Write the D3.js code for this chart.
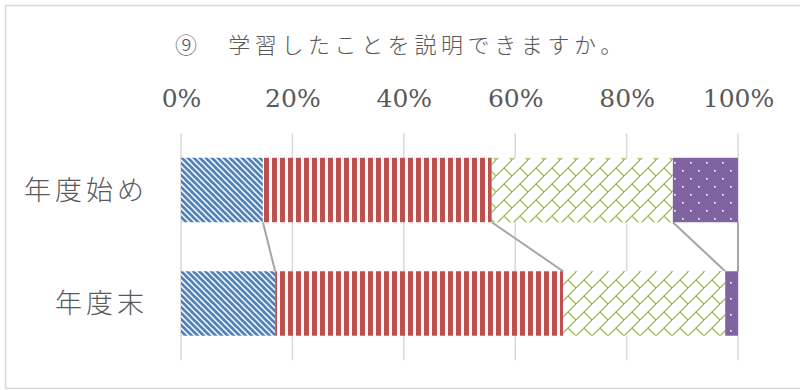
<!DOCTYPE html>
<html><head><meta charset="utf-8">
<script src="https://cdn.jsdelivr.net/npm/d3@7"></script>
<style>html,body{margin:0;padding:0;background:#fff;}svg{display:block;}</style>
</head><body>
<svg id="chart" width="800" height="390"></svg>
<script>
const title = "⑨　学習したことを説明できますか。";
const categories = ["年度始め", "年度末"];
const seriesNames = ["できる", "だいたいできる", "あまりできない", "できない"];
const s1 = [14.7, 16.9];
const s2 = [41.1, 51.7];
const s3 = [32.5, 29.1];
const s4 = [11.7, 2.3];
const tickValues = [0, 20, 40, 60, 80, 100];
const tickLabels = ["0%", "20%", "40%", "60%", "80%", "100%"];

const svg = d3.select("#chart");
const defs = svg.append("defs");

// Patterns
const pBlue = defs.append("pattern").attr("id","pBlue").attr("patternUnits","userSpaceOnUse")
  .attr("width",6).attr("height",6);
pBlue.append("rect").attr("width",6).attr("height",6).attr("fill","#fff");
pBlue.append("path").attr("d","M-1,-1L7,7M-1,5L1,7M5,-1L7,1").attr("stroke","#4f81bd").attr("stroke-width",2.7);

const pRed = defs.append("pattern").attr("id","pRed").attr("patternUnits","userSpaceOnUse")
  .attr("width",8).attr("height",8);
pRed.append("rect").attr("width",8).attr("height",8).attr("fill","#fff");
pRed.append("rect").attr("x",0).attr("width",5).attr("height",8).attr("fill","#c0504d");

const pGreen = defs.append("pattern").attr("id","pGreen").attr("patternUnits","userSpaceOnUse")
  .attr("width",16).attr("height",16);
pGreen.append("rect").attr("width",16).attr("height",16).attr("fill","#fff");
pGreen.append("path").attr("d","M-1,17L17,-1M8,8L17,17M-1,-1L0,0").attr("stroke","#9bbb59").attr("stroke-width",1.3).attr("fill","none");

const pPurple = defs.append("pattern").attr("id","pPurple").attr("patternUnits","userSpaceOnUse")
  .attr("width",16).attr("height",16);
pPurple.append("rect").attr("width",16).attr("height",16).attr("fill","#8064a2");
pPurple.append("rect").attr("x",2).attr("y",2).attr("width",1.6).attr("height",1.6).attr("fill","#fff");
pPurple.append("rect").attr("x",10).attr("y",10).attr("width",1.6).attr("height",1.6).attr("fill","#fff");

const fills = ["url(#pBlue)", "url(#pRed)", "url(#pGreen)", "url(#pPurple)"];

// border
svg.append("rect").attr("x",5.5).attr("y",5.5).attr("width",820).attr("height",383)
  .attr("fill","none").attr("stroke","#d9d9d9").attr("stroke-width",1.5);

const x = d3.scaleLinear().domain([0,100]).range([181,738]);
const y = d3.scaleBand().domain(categories).range([133.25,360.25]).paddingInner(0.432).paddingOuter(0.216);

// title
svg.append("text").attr("x",175).attr("y",53).text(title)
  .attr("font-family","'Noto Sans CJK JP'").attr("font-weight",300).attr("font-size",22)
  .attr("letter-spacing",4.6).attr("fill","#595959");

// gridlines
svg.append("g").selectAll("line").data(tickValues).join("line")
  .attr("x1",d=>x(d)).attr("x2",d=>x(d)).attr("y1",y.range()[0]).attr("y2",y.range()[1])
  .attr("stroke","#d9d9d9").attr("stroke-width",1.5);

// axis labels
const axis = d3.axisTop(x).tickValues(tickValues).tickFormat((d,i)=>tickLabels[i]).tickSize(0).tickPadding(0);
const ag = svg.append("g").attr("transform","translate(0,107)").call(axis)
  .attr("font-family","DejaVu Serif").attr("font-size",25);
ag.select(".domain").remove();
ag.selectAll("text").attr("fill","#595959");

// stack
const data = categories.map((c,i)=>({cat:c, v:[s1[i],s2[i],s3[i],s4[i]]}));
const stacked = data.map(d=>{let acc=0; return d.v.map((v,k)=>{const r={cat:d.cat,k,x0:acc,x1:acc+v}; acc+=v; return r;});});

// series lines
const lines = [];
for (let k=0;k<4;k++){
  lines.push({k, a: stacked[0][k].x1, b: stacked[1][k].x1});
}
svg.append("g").selectAll("line").data(lines).join("line")
  .attr("x1",d=>x(d.a)).attr("y1",y(categories[0])+y.bandwidth())
  .attr("x2",d=>x(d.b)).attr("y2",y(categories[1]))
  .attr("stroke","#a5a5a5").attr("stroke-width",2);

svg.append("g").selectAll("g").data(stacked).join("g")
  .selectAll("rect").data(d=>d).join("rect")
  .attr("x",d=>x(d.x0)).attr("width",d=>x(d.x1)-x(d.x0))
  .attr("y",d=>y(d.cat)).attr("height",y.bandwidth())
  .attr("fill",d=>fills[d.k]);

// category labels
svg.append("g").selectAll("text").data(categories).join("text")
  .attr("x",148).attr("y",d=>y(d)+y.bandwidth()/2).attr("dy","0.36em")
  .attr("text-anchor","end").text(d=>d)
  .attr("font-family","'Noto Sans CJK JP'").attr("font-weight",300).attr("font-size",27)
  .attr("letter-spacing",4).attr("fill","#595959");
</script>
</body></html>
